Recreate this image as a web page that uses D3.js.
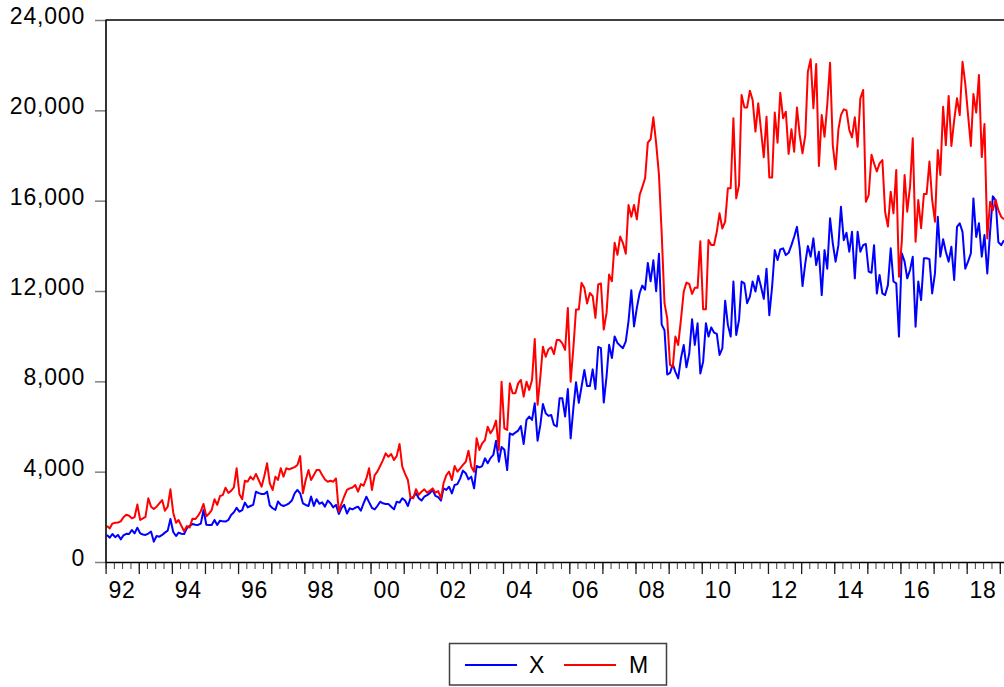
<!DOCTYPE html>
<html><head><meta charset="utf-8">
<script src="https://cdn.jsdelivr.net/npm/d3@7"></script>
<style>
body{margin:0;background:#fff}
svg{display:block}
text{font-family:"Liberation Sans",Arial,Helvetica,sans-serif;fill:#000}
</style>
</head><body>
<svg id="chart" width="1004" height="687"></svg>
<script>
// Monthly observations starting 1992M01
const startYear = 1992;
const seriesNames = ["X", "M"];
const seriesColors = ["#0000ff", "#ff0000"];

const X = [
  1196,1077,1240,1100,1200,1004,1180,1250,1240,1417,1270,1520,      // 1992
  1270,1220,1200,1260,1350,900,1150,1120,1200,1300,1390,1904,       // 1993
  1330,1150,1300,1250,1240,1500,1600,1680,1650,1640,1700,2300,      // 1994
  1650,1640,1640,1860,1640,1830,1800,1790,1860,2080,2200,2400,      // 1995
  2230,2300,2630,2420,2480,2530,3115,3050,3010,3010,3115,2500,      // 1996
  2380,2310,2680,2530,2480,2530,2600,2720,3040,3190,3040,2600,      // 1997
  2525,2480,2900,2480,2780,2580,2640,2450,2720,2600,2420,2530,      // 1998
  2125,2400,2530,2150,2380,2330,2400,2450,2270,2600,2890,2650,      // 1999
  2400,2330,2480,2670,2600,2570,2570,2450,2330,2670,2630,2820,      // 2000
  2720,2480,2820,2870,3040,2820,2720,2890,2960,3050,3190,2930,      // 2001
  2870,2720,3260,3190,3335,3040,3410,3450,3705,4045,3930,3660,      // 2002
  3780,3260,4250,4190,4250,4590,4370,4600,4740,5370,4440,5090,      // 2003
  4970,4070,5700,5630,5730,5820,6020,5225,6290,6440,6290,7030,      // 2004
  5370,6070,7000,6590,6470,6510,6070,6000,7250,7250,6440,7660,      // 2005
  5475,6850,7960,7050,7760,8500,7790,7790,8530,7660,9520,9470,      // 2006
  7060,8220,9620,9030,9990,9700,9580,9470,9770,10660,12030,10430,   // 2007
  11250,11910,12240,12060,13240,12430,13360,11990,13650,10510,10260,8300, // 2008
  8370,8750,8420,8130,9010,9610,8620,9240,10750,9610,10570,8350,    // 2009
  8870,10570,9980,10390,10160,10100,9170,9460,11570,10500,9980,12420, // 2010
  10050,10720,12420,12340,11460,11750,12420,11980,12670,12200,11650,12990, // 2011
  10930,12190,13810,13370,13840,13890,13590,13690,14030,14400,14840,13890, // 2012
  12220,13230,13990,13520,14330,13150,13740,11820,13810,12990,15220,14110, // 2013
  13300,14030,15730,14250,14580,13740,14620,12560,14620,13740,14030,14080, // 2014
  12860,12810,14030,11890,12710,11890,11820,12260,13890,12420,12340,9980,  // 2015
  13670,13300,12560,12930,13520,10420,12420,11600,13450,13450,13410,11890, // 2016
  12780,15290,13520,14290,13740,13300,13960,12490,14840,15000,14620,12990, // 2017
  13300,13670,16100,14390,15000,13520,14480,12780,14620,16190,16010,14170, // 2018
  14030,14250                                                          // 2019
];

const M = [
  1590,1490,1700,1740,1750,1800,1980,2090,2050,1930,1990,2550,      // 1992
  1860,1930,2000,2820,2450,2350,2450,2600,2740,2270,2450,3220,      // 1993
  2185,1740,1860,1600,1360,1590,1530,1920,1900,2040,2250,2570,      // 1994
  2020,2150,2300,2780,2530,2920,2960,3290,3060,3150,3300,4150,      // 1995
  3000,2780,3600,3560,3780,3650,3900,3630,3335,3800,4370,3485,      // 1996
  3190,3780,3630,4150,3780,4150,4100,4150,4200,4295,4690,3040,      // 1997
  3630,4070,3630,3850,4070,4070,3850,3650,3555,3600,3555,3700,      // 1998
  2230,2600,2900,3190,3260,3300,3410,3115,3450,3380,3700,4150,      // 1999
  3190,3850,4000,4250,4500,4810,4660,4780,4515,4700,5225,4220,      // 2000
  3900,3630,2865,2820,3220,2970,3115,3220,3070,3150,3260,3070,      // 2001
  3140,2820,3485,3850,4000,3630,4250,4000,4150,4300,4440,4930,      // 2002
  4220,4000,5475,4960,5250,5400,5990,5700,5900,6260,4960,7985,      // 2003
  5920,5850,7910,7470,7470,7910,8060,7320,7985,7620,8060,9870,      // 2004
  6960,8210,9535,9090,9420,9510,9210,9830,9830,9680,9390,11250,     // 2005
  7985,9535,11180,11180,12360,12140,11450,11910,11770,10810,12290,12330, // 2006
  10290,11030,12730,12430,14140,13600,14410,14120,13650,15810,15290,15810, // 2007
  15170,16250,16600,16990,18570,18720,19690,18540,17140,14550,11460,10790, // 2008
  8730,8650,9980,9610,10720,11970,12370,12310,11870,12140,12140,14200,     // 2009
  11190,11190,14260,14040,14040,14630,15440,14770,15070,16550,16550,19650, // 2010
  16100,16690,20680,20130,20130,20870,20460,19060,20310,19130,17920,19720, // 2011
  17030,17030,19900,18570,20780,19650,19940,18070,19160,18170,20130,18910, // 2012
  18100,18900,21710,22260,20090,22050,17535,19790,18830,20240,22110,18460, // 2013
  17390,19160,19790,20045,20000,19130,18800,19690,18390,20530,20900,15950, // 2014
  16250,18030,17650,17290,17650,17800,15510,14850,16400,15440,17360,12630, // 2015
  14180,17140,15510,16620,18760,14180,16030,14780,16300,16300,17730,16030, // 2016
  15070,18240,17140,20160,18460,20640,18420,19570,20530,19790,22150,21190, // 2017
  19800,18420,20720,19900,21560,17930,19390,14330,15950,15580,16030,15580, // 2018
  15290,15180                                                              // 2019
];

const yTickValues = [0, 4000, 8000, 12000, 16000, 20000, 24000];
const xLabelYears = [1992,1994,1996,1998,2000,2002,2004,2006,2008,2010,2012,2014,2016,2018];

const W = 1004, H = 687;
const plot = {left: 105.6, top: 20, bottom: 562, axisEnd: 999.8};

const svg = d3.select("#chart");
svg.append("rect").attr("width", W).attr("height", H).attr("fill", "#fff");

const x = d3.scaleTime()
  .domain([new Date(startYear, 0, 1), new Date(2019, 0, 1)])
  .range([plot.left, plot.axisEnd]);
const y = d3.scaleLinear().domain([0, 24000]).range([plot.bottom, plot.top]);

const dateOf = i => new Date(startYear, i, 16);

// clip
svg.append("defs").append("clipPath").attr("id", "clip")
  .append("rect").attr("x", plot.left).attr("y", 0)
  .attr("width", W - plot.left).attr("height", plot.bottom);

// Y axis ticks + labels
const yAxis = d3.axisLeft(y).tickValues(yTickValues).tickSize(11).tickPadding(10)
  .tickFormat(d3.format(","));
const gy = svg.append("g").attr("transform", `translate(${plot.left + 0.4},0)`).call(yAxis);
gy.select(".domain").remove();
gy.selectAll(".tick line").attr("stroke", "#808080").attr("stroke-width", 1.5);
gy.selectAll(".tick text")
  .attr("font-size", 23).attr("letter-spacing", "0.8px")
  .attr("font-family", "'Liberation Sans', Arial, sans-serif")
  .attr("dy", "0.15em").attr("fill", "#000");

// X axis: quarterly minor ticks, yearly major ticks
const xMinor = d3.axisBottom(x).ticks(d3.timeMonth.every(3)).tickSize(7).tickFormat("");
const gxm = svg.append("g").attr("transform", `translate(0,${plot.bottom})`).call(xMinor);
gxm.select(".domain").remove();
gxm.selectAll(".tick line").attr("stroke", "#404040").attr("stroke-width", 1);

const xMajor = d3.axisBottom(x).ticks(d3.timeYear.every(1)).tickSize(12).tickFormat("");
const gxM = svg.append("g").attr("transform", `translate(0,${plot.bottom})`).call(xMajor);
gxM.select(".domain").remove();
gxM.selectAll(".tick line").attr("stroke", "#202020").attr("stroke-width", 1.3);

svg.append("g").selectAll("text").data(xLabelYears).join("text")
  .attr("x", d => x(new Date(d, 6, 1)))
  .attr("y", 598)
  .attr("text-anchor", "middle")
  .attr("font-size", 23).attr("letter-spacing", "0.8px")
  .text(d => d3.timeFormat("%y")(new Date(d, 0, 1)));

// Lines
const data = [X, M];
const line = d3.line().x((d, i) => x(dateOf(i))).y(d => y(d));
const gl = svg.append("g").attr("clip-path", "url(#clip)");
data.forEach((s, k) => {
  gl.append("path").datum(s)
    .attr("fill", "none")
    .attr("stroke", seriesColors[k])
    .attr("stroke-width", 2)
    .attr("stroke-linejoin", "round")
    .attr("d", line);
});

// Frame
svg.append("line").attr("x1", plot.left + 0.4).attr("x2", plot.left + 0.4)
  .attr("y1", plot.top).attr("y2", plot.bottom).attr("stroke", "#000").attr("stroke-width", 1.6);
svg.append("line").attr("x1", plot.left).attr("x2", W)
  .attr("y1", plot.top).attr("y2", plot.top).attr("stroke", "#000").attr("stroke-width", 1.6);
svg.append("line").attr("x1", plot.left).attr("x2", W)
  .attr("y1", plot.bottom + 0.5).attr("y2", plot.bottom + 0.5).attr("stroke", "#000").attr("stroke-width", 1.6);

// Legend
const lg = svg.append("g");
lg.append("rect").attr("x", 449.5).attr("y", 643.5).attr("width", 217).attr("height", 41.5)
  .attr("fill", "#fff").attr("stroke", "#404040").attr("stroke-width", 1.5);
const legendItems = [
  {x1: 465, x2: 517, tx: 529},
  {x1: 564, x2: 616, tx: 629}
];
legendItems.forEach((it, k) => {
  lg.append("line").attr("x1", it.x1).attr("x2", it.x2).attr("y1", 665).attr("y2", 665)
    .attr("stroke", seriesColors[k]).attr("stroke-width", 2);
  lg.append("text").attr("x", it.tx).attr("y", 673).attr("font-size", 23).text(seriesNames[k]);
});
</script>
</body></html>
